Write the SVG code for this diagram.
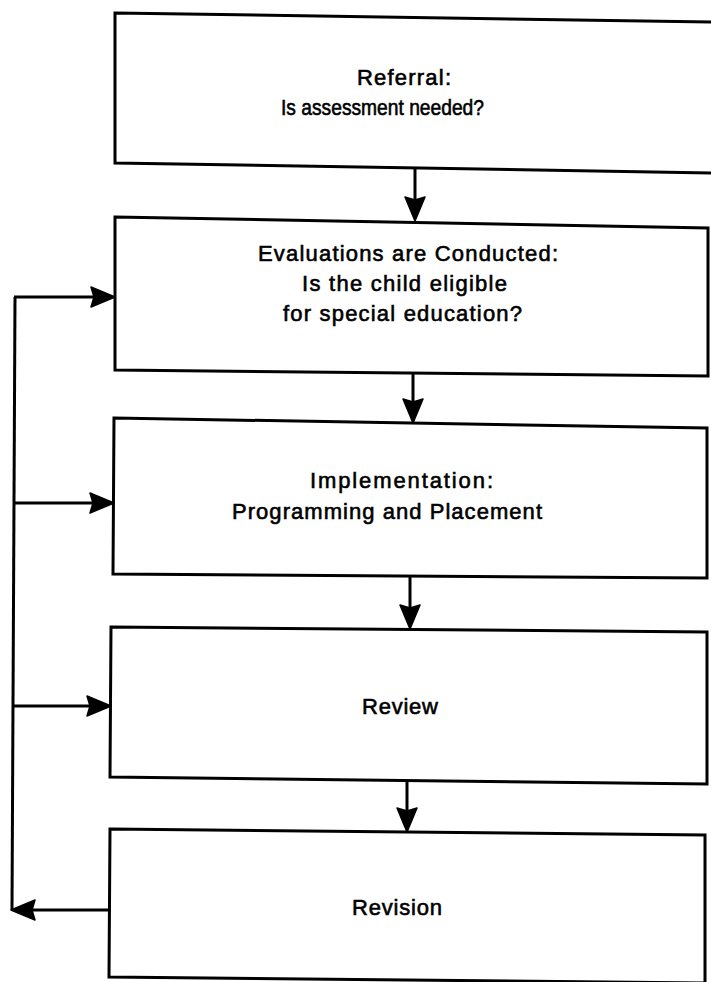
<svg xmlns="http://www.w3.org/2000/svg" width="711" height="982" viewBox="0 0 711 982">
<style>
.box{fill:#fff;stroke:#000;stroke-width:3;stroke-linejoin:miter}
.lbl{font-family:"Liberation Sans",Arial,sans-serif;font-size:22px;fill:#000;stroke:#000;stroke-width:0.6}
.conn{fill:none;stroke:#000;stroke-width:3}
.head{fill:#000;stroke:#000;stroke-width:1.5;stroke-linejoin:round}
</style>
<defs>
<path id="ah" class="head" d="M0,0 L-24,-10 L-21,0 L-24,10 Z"/>
</defs>
<rect width="711" height="982" fill="#fff"/>
<g id="referral">
<polygon class="box" points="115,13 713,22 713,173 115,163"/>
<text class="lbl" x="357" y="85" textLength="94" lengthAdjust="spacing">Referral:</text>
<text class="lbl" x="281" y="115" textLength="203" lengthAdjust="spacingAndGlyphs">Is assessment needed?</text>
</g>
<g id="evaluations">
<polygon class="box" points="115,217 708,228 708,376 115,370"/>
<text class="lbl" x="258" y="261" textLength="300" lengthAdjust="spacing">Evaluations are Conducted:</text>
<text class="lbl" x="302" y="291" textLength="205" lengthAdjust="spacing">Is the child eligible</text>
<text class="lbl" x="283" y="321" textLength="239" lengthAdjust="spacing">for special education?</text>
</g>
<g id="implementation">
<polygon class="box" points="114,418 707,428 707,578 113,574"/>
<text class="lbl" x="310" y="488" textLength="183" lengthAdjust="spacing">Implementation:</text>
<text class="lbl" x="232" y="519" textLength="310" lengthAdjust="spacing">Programming and Placement</text>
</g>
<g id="review">
<polygon class="box" points="111,627 707,632 707,784 110,777"/>
<text class="lbl" x="362" y="714" textLength="76" lengthAdjust="spacing">Review</text>
</g>
<g id="revision">
<polygon class="box" points="110,829 705,835 705,983 109,977"/>
<text class="lbl" x="352" y="915" textLength="90" lengthAdjust="spacing">Revision</text>
</g>
<g id="connectors">
<line class="conn" x1="415" y1="168" x2="415" y2="205"/>
<use href="#ah" transform="translate(415,221) rotate(90)"/>
<line class="conn" x1="413" y1="373" x2="413" y2="407"/>
<use href="#ah" transform="translate(413,423) rotate(90)"/>
<line class="conn" x1="410" y1="576" x2="410" y2="613"/>
<use href="#ah" transform="translate(410,629) rotate(90)"/>
<line class="conn" x1="407" y1="780" x2="407" y2="816"/>
<use href="#ah" transform="translate(407,832) rotate(90)"/>
<polyline class="conn" points="15,297 12,910"/>
<line class="conn" x1="14" y1="297" x2="99" y2="297"/>
<use href="#ah" transform="translate(115,297)"/>
<line class="conn" x1="14" y1="503" x2="98" y2="503"/>
<use href="#ah" transform="translate(114,503)"/>
<line class="conn" x1="13" y1="706" x2="95" y2="706"/>
<use href="#ah" transform="translate(111,706)"/>
<line class="conn" x1="110" y1="910" x2="27" y2="910"/>
<use href="#ah" transform="translate(11,910) rotate(180)"/>
</g>
</svg>
